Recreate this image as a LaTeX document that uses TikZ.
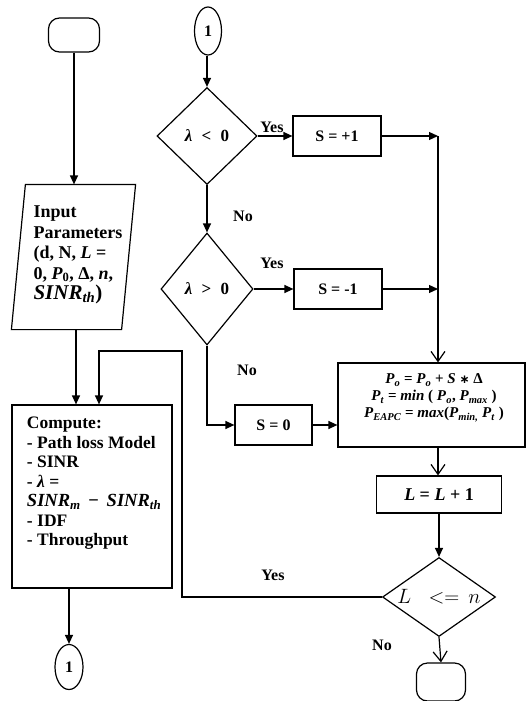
\documentclass[tikz,border=0pt]{standalone}
\usepackage{fontspec}
\setmainfont{Liberation Serif}
\newfontfamily\symfam{DejaVu Sans}
\usetikzlibrary{arrows.meta,shapes.geometric}

% lettere in corsivo grassetto, pedici
\newcommand{\mv}[1]{\textit{#1}}
\newcommand{\ms}[1]{\textsubscript{\textit{#1}}}

\begin{document}
\begin{tikzpicture}[x=1pt, y=-1pt, line width=1.2pt,
  >={Triangle[length=9pt,width=8pt]},
  font=\bfseries\fontsize{16}{19}\selectfont,
  box/.style={draw, rectangle, inner sep=0pt},
  term/.style={draw, rectangle, rounded corners=11pt},
  conn/.style={draw, ellipse, inner sep=0pt, font=\bfseries\fontsize{16}{17}\selectfont},
  decision/.style={draw, diamond, inner sep=0pt},
  lbl/.style={inner sep=0pt},
  openhead/.style={-{Straight Barb[length=10pt,width=14pt]}}]

\useasboundingbox (0,0) rectangle (526,701);

% =====================
% Colonne e livelli
% =====================
\def\LeftX{74}
\def\DecX{207}
\def\BusX{438}

% =====================
% Colonna sinistra
% =====================
\node[term, minimum width=51, minimum height=34] (start) at (\LeftX,35) {};

\node[minimum width=109, minimum height=144, inner sep=0pt] (inp) at (73.5,257) {};
\draw ([xshift=7pt]inp.north west) -- ([xshift=7pt]inp.north east)
  -- ([xshift=-7pt]inp.south east) -- ([xshift=-7pt]inp.south west) -- cycle;
\node[lbl, align=left, font=\bfseries\fontsize{18}{20.5}\selectfont] (inptext) at (78,255)
  {Input\\Parameters\\(d, N, \mv{L} =\\0, \mv{P}\textsubscript{0}, Δ, \mv{n},\\
   {\fontsize{21}{22}\selectfont\mv{SINR}\ms{th})}};

\node[box, minimum width=160, minimum height=183] (comp) at (92,496.5) {};
\node[lbl, anchor=north west, align=left, font=\bfseries\fontsize{17.5}{19.5}\selectfont]
  (comptext) at ([shift={(15,12)}]comp.north west)
  {Compute:\\- Path loss Model\\- SINR\\- \mv{λ} =\\
   {\fontsize{18.5}{21}\selectfont\mv{SINR}\ms{m}\, − \,\mv{SINR}\ms{th}}\\- IDF\\- Throughput};

\node[conn, minimum width=28, minimum height=45] (endone) at (69,667) {1};

\draw[->] (start.south) -- (start.south |- inp.north);
\draw[->] (inp.south -| 76,0) -- (comp.north -| 76,0);
\draw[->] (endone.north |- comp.south) -- (endone.north);

% =====================
% Decisioni su lambda
% =====================
\node[conn, minimum width=27, minimum height=48] (topone) at (208,31) {1};
\node[decision, minimum width=100, minimum height=97, font=\bfseries\fontsize{17}{19}\selectfont]
  (dneg) at (\DecX,136) {\mv{λ}\hspace{0.55em}<\hspace{0.55em}0};
\node[decision, minimum width=92, minimum height=112, font=\bfseries\fontsize{17}{19}\selectfont]
  (dpos) at (\DecX,289) {\mv{λ}\hspace{0.55em}>\hspace{0.55em}0};

\node[box, minimum width=88, minimum height=40] (splus) at (337,136) {S = +1};
\node[box, minimum width=88, minimum height=40] (sminus) at (338,289) {S = -1};
\node[box, minimum width=77, minimum height=40] (szero) at (273.5,425) {S = 0};

\draw[->] (topone.south -| dneg.north) -- (dneg.north);
\draw[->] (dneg.south) -- (dpos.north);
\draw[->] (dneg.east) -- (splus.west);
\draw[->] (dpos.east) -- (sminus.west);
\draw[->] (dpos.south) |- (szero.west);

\node[lbl] (yesneg) at (272,127) {Yes};
\node[lbl] (noneg) at (243,216) {No};
\node[lbl] (yespos) at (272,263) {Yes};
\node[lbl] (nopos) at (247,370) {No};

% =====================
% Aggiornamento potenza
% =====================
\node[box, minimum width=187, minimum height=84] (pbox) at (431.5,405) {};
\node[lbl, align=center, font=\bfseries\fontsize{15}{17}\selectfont] (ptext) at (434,398)
  {\mv{P}\ms{o} = \mv{P}\ms{o} + \mv{S} {\symfam\fontsize{12}{12}\selectfont ∗} Δ\\
   \mv{P}\ms{t} = \mv{min} ( \mv{P}\ms{o}, \mv{P}\ms{max} )\\
   \mv{P}\ms{EAPC} = \mv{max}(\mv{P}\ms{min,} \mv{P}\ms{t} )};

\coordinate (bus) at (\BusX,136);
\draw[->] (splus.east) -- (bus);
\draw[->] (sminus.east) -- (sminus.east -| bus);
\draw[openhead] (bus) -- (bus |- pbox.north);
\draw[->] (szero.east) -- (szero.east -| pbox.west);

\node[box, minimum width=125, minimum height=37, font=\bfseries\fontsize{18}{20}\selectfont]
  (lbox) at (439,494.5) {\mv{L} = \mv{L} + 1};
\node[decision, minimum width=113, minimum height=79, aspect=1.5] (dlen) at (439,597)
  {\fontsize{20}{22}\selectfont$L\;\;\; {<}{=}\;\, n$};
\node[term, minimum width=49, minimum height=38] (stop) at (441,682) {};

\draw[openhead] (bus |- pbox.south) -- (bus |- lbox.north);
\draw[->] (lbox.south) -- (dlen.north);
\draw[openhead] (dlen.south) -- (stop.north);

% =====================
% Ritorno al calcolo
% =====================
\coordinate (back) at (182,351);
\draw[->] (dlen.west) -| (back) -| ([xshift=7pt]comp.north);

\node[lbl] (yeslen) at (273,575) {Yes};
\node[lbl] (nolen) at (382,645) {No};

\end{tikzpicture}
\end{document}
